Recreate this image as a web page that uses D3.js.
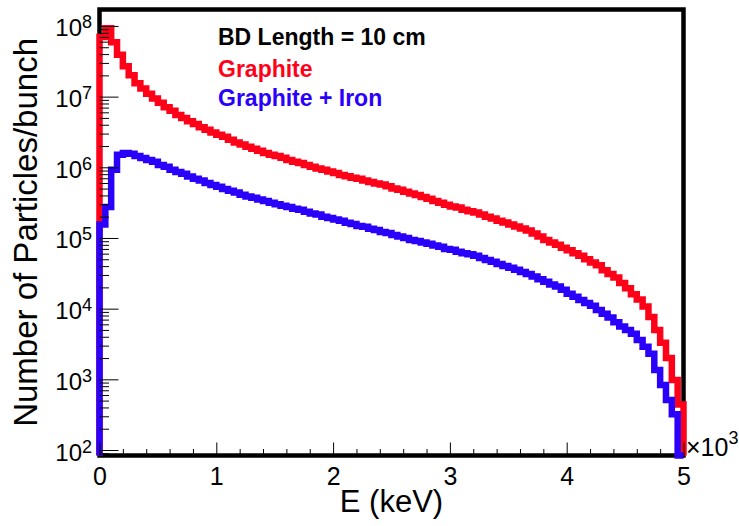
<!DOCTYPE html>
<html><head><meta charset="utf-8">
<script src="https://cdn.jsdelivr.net/npm/d3@7"></script>
<style>
body{margin:0;background:#fff}
svg{display:block}
text{font-family:"Liberation Sans",Arial,Helvetica,sans-serif}
</style>
</head><body>
<svg id="c" width="739" height="526"></svg>
<script>
// ---- data (bins of 50 keV from 0 to 5000 keV) ----
const energyMinKeV = 0;
const energyMaxKeV = 5000;
const graphite = [
 7.0e7, 9.3e7, 5.9e7, 3.9e7, 2.7e7, 2.0e7, 1.55e7, 1.3e7, 1.1e7, 9.4e6,
 8.2e6, 7.1e6, 6.3e6, 5.5e6, 5.0e6, 4.5e6, 4.1e6, 3.7e6, 3.4e6, 3.1e6,
 2.9e6, 2.7e6, 2.45e6, 2.25e6, 2.1e6, 1.95e6, 1.83e6, 1.72e6, 1.6e6, 1.5e6,
 1.45e6, 1.36e6, 1.27e6, 1.2e6, 1.15e6, 1.08e6, 1.02e6, 9.6e5, 9.2e5, 8.7e5,
 8.3e5, 7.8e5, 7.5e5, 7.1e5, 6.9e5, 6.5e5, 6.2e5, 5.9e5, 5.7e5, 5.4e5,
 5.0e5, 4.8e5, 4.5e5, 4.25e5, 4.05e5, 3.8e5, 3.6e5, 3.35e5, 3.15e5, 2.95e5,
 2.8e5, 2.7e5, 2.5e5, 2.38e5, 2.3e5, 2.15e5, 2.0e5, 1.88e5, 1.75e5, 1.65e5,
 1.55e5, 1.45e5, 1.36e5, 1.28e5, 1.16e5, 1.05e5, 9.4e4, 8.6e4, 8.0e4, 7.3e4,
 6.7e4, 6.1e4, 5.6e4, 5.0e4, 4.5e4, 4.1e4, 3.5e4, 3.1e4, 2.75e4, 2.3e4,
 1.95e4, 1.6e4, 1.35e4, 1.07e4, 7.6e3, 5.0e3, 3.3e3, 2.0e3, 980, 440
];
const graphiteIron = [
 1.55e5, 2.75e5, 9.2e5, 1.5e6, 1.6e6, 1.55e6, 1.45e6, 1.35e6, 1.27e6, 1.2e6,
 1.08e6, 1.02e6, 9.2e5, 8.6e5, 8.1e5, 7.4e5, 6.9e5, 6.5e5, 6.0e5, 5.6e5,
 5.3e5, 4.95e5, 4.65e5, 4.4e5, 4.1e5, 3.85e5, 3.7e5, 3.5e5, 3.35e5, 3.15e5,
 3.0e5, 2.85e5, 2.75e5, 2.6e5, 2.5e5, 2.35e5, 2.22e5, 2.15e5, 2.0e5, 1.92e5,
 1.82e5, 1.75e5, 1.64e5, 1.58e5, 1.48e5, 1.44e5, 1.35e5, 1.3e5, 1.22e5, 1.18e5,
 1.1e5, 1.05e5, 1.0e5, 9.4e4, 9.1e4, 8.6e4, 8.3e4, 7.8e4, 7.5e4, 7.0e4,
 6.8e4, 6.4e4, 6.1e4, 5.9e4, 5.6e4, 5.2e4, 4.9e4, 4.6e4, 4.3e4, 4.0e4,
 3.8e4, 3.55e4, 3.3e4, 3.1e4, 2.85e4, 2.6e4, 2.4e4, 2.2e4, 2.05e4, 1.85e4,
 1.62e4, 1.47e4, 1.33e4, 1.2e4, 1.1e4, 9.6e3, 8.5e3, 7.5e3, 6.4e3, 5.6e3,
 5.0e3, 4.4e3, 3.6e3, 2.9e3, 2.3e3, 1.35e3, 830, 510, 320, 0
];
const xMajorTicks = [0, 1000, 2000, 3000, 4000, 5000];
const xTickLabels = ["0", "1", "2", "3", "4", "5"];
const yExponents = [2, 3, 4, 5, 6, 7, 8];
const legendTitle = "BD Length = 10 cm";
const seriesNames = ["Graphite", "Graphite + Iron"];
const seriesColors = ["#ff0019", "#2b00fb"];

// ---- layout ----
const L = 99.5, R = 683.5, T = 9.5, B = 455.5;
const svg = d3.select("#c");
const x = d3.scaleLinear().domain([energyMinKeV, energyMaxKeV]).range([L, R]);
const y = d3.scaleLog().domain([83.6, 1.71e8]).range([B, T]).clamp(true);

// frame
svg.append("rect").attr("x", L).attr("y", T).attr("width", R - L).attr("height", B - T)
  .attr("fill", "#fff").attr("stroke", "#000").attr("stroke-width", 4.5);

// histograms
function stepPoints(vals) {
  const n = vals.length, w = (energyMaxKeV - energyMinKeV) / n;
  const pts = [[x(energyMinKeV), B]];
  vals.forEach((v, i) => {
    const yy = v > 0 ? y(v) : B;
    pts.push([x(energyMinKeV + i * w), yy], [x(energyMinKeV + (i + 1) * w), yy]);
  });
  pts.push([x(energyMaxKeV), B]);
  return pts;
}
const line = d3.line();
[graphite, graphiteIron].forEach((s, k) => {
  svg.append("path").attr("d", line(stepPoints(s)))
    .attr("fill", "none").attr("stroke", seriesColors[k])
    .attr("stroke-width", 6.5).attr("stroke-linejoin", "miter");
});

// x axis
const xMinor = d3.range(200, 5000, 200).filter(v => v % 1000 !== 0);
const gxMinor = svg.append("g").attr("transform", `translate(0,${B})`)
  .call(d3.axisBottom(x).tickValues(xMinor).tickSizeInner(-6.5).tickSizeOuter(0).tickFormat(""));
const gx = svg.append("g").attr("transform", `translate(0,${B})`)
  .call(d3.axisBottom(x).tickValues(xMajorTicks).tickSizeInner(-13).tickSizeOuter(0)
    .tickPadding(11.5).tickFormat((d, i) => xTickLabels[i]));
[gx, gxMinor].forEach(g => { g.select(".domain").remove(); g.selectAll("line").attr("stroke", "#000").attr("stroke-width", 1); });
gx.selectAll("text").attr("font-size", 25).attr("fill", "#000")
  .attr("font-family", '"Liberation Sans",Arial,sans-serif');

// y axis
const yMajor = yExponents.map(e => Math.pow(10, e));
const yMinor = [];
for (let e = 1; e <= 8; e++) for (let m = 2; m <= 9; m++) {
  const v = m * Math.pow(10, e);
  if (v >= y.domain()[0] && v <= y.domain()[1]) yMinor.push(v);
}
const gyMinor = svg.append("g").attr("transform", `translate(${L},0)`)
  .call(d3.axisLeft(y).tickValues(yMinor).tickSizeInner(-9.5).tickSizeOuter(0).tickFormat(""));
const gy = svg.append("g").attr("transform", `translate(${L},0)`)
  .call(d3.axisLeft(y).tickValues(yMajor).tickSizeInner(-19).tickSizeOuter(0).tickPadding(7.5).tickFormat(""));
[gy, gyMinor].forEach(g => { g.select(".domain").remove(); g.selectAll("line").attr("stroke", "#000").attr("stroke-width", 1); });
gy.selectAll(".tick text").each(function (d) {
  const t = d3.select(this).attr("dy", null).attr("y", 10).attr("fill", "#000")
    .attr("font-family", '"Liberation Sans",Arial,sans-serif');
  t.append("tspan").attr("font-size", 24).text("10");
  t.append("tspan").attr("font-size", 18).attr("dy", -8).text(String(Math.round(Math.log10(d))));
});

// x exponent "×10^3"
const ex = svg.append("text").attr("x", 686).attr("y", 456).attr("fill", "#000");
ex.append("tspan").attr("font-size", 25).text("×10");
ex.append("tspan").attr("font-size", 18).attr("dy", -12).text("3");

// axis titles
svg.append("text").attr("x", (L + R) / 2).attr("y", 512).attr("text-anchor", "middle")
  .attr("font-size", 31).attr("fill", "#000").text("E (keV)");
svg.append("text").attr("transform", "translate(37,38) rotate(-90)").attr("text-anchor", "end")
  .attr("font-size", 33).attr("fill", "#000").text("Number of Particles/bunch");

// legend texts
svg.append("text").attr("x", 218).attr("y", 45).attr("font-size", 23).attr("font-weight", "bold")
  .attr("fill", "#000").text(legendTitle);
seriesNames.forEach((n, i) => {
  svg.append("text").attr("x", 218).attr("y", [77, 106][i]).attr("font-size", 23)
    .attr("font-weight", "bold").attr("fill", seriesColors[i]).text(n);
});
</script>
</body></html>
